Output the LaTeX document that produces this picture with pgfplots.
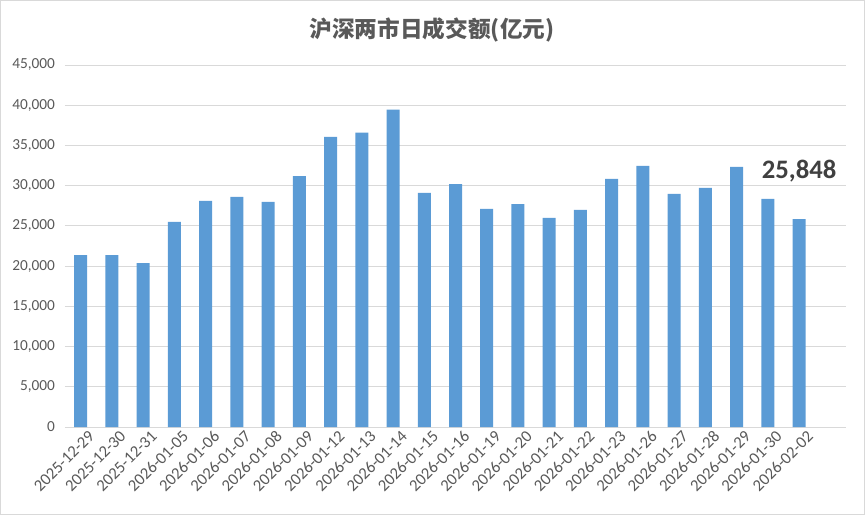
\documentclass[border=0pt]{standalone}
\usepackage{fontspec}
\setmainfont{Carlito}
\newfontfamily\cjk{Noto Sans CJK SC}
\usepackage{pgfplots}
\pgfplotsset{compat=1.18}
\definecolor{barblue}{HTML}{5B9BD5}
\definecolor{gridgray}{HTML}{D9D9D9}
\definecolor{textgray}{HTML}{595959}
\definecolor{labelgray}{HTML}{404040}
\pgfplotstableread{
x y
0 21370
1 21370
2 20370
3 25490
4 28100
5 28600
6 27980
7 31200
8 36080
9 36580
10 39450
11 29100
12 30200
13 27100
14 27700
15 25990
16 26980
17 30850
18 32470
19 28980
20 29730
21 32350
22 28360
23 25848
}\datatable
\begin{document}
\begin{tikzpicture}
\useasboundingbox (0,0) rectangle (648.75pt,386.25pt);
\draw[gridgray, line width=0.75pt] (0.375pt,0.375pt) rectangle (648.375pt,385.875pt);
\node[font=\cjk\bfseries\fontsize{17}{20}\selectfont, text=textgray] at (324pt,363.5pt) {沪深两市日成交额(亿元)};
\begin{axis}[
  at={(48.75pt,66pt)}, anchor=south west,
  scale only axis, width=585.75pt, height=271.5pt,
  ymin=0, ymax=45000, ytick distance=5000,
  xmin=-0.5, xmax=24.5,
  xtick={0,...,23},
  xticklabels={2025-12-29,2025-12-30,2025-12-31,2026-01-05,2026-01-06,2026-01-07,2026-01-08,2026-01-09,2026-01-12,2026-01-13,2026-01-14,2026-01-15,2026-01-16,2026-01-19,2026-01-20,2026-01-21,2026-01-22,2026-01-23,2026-01-26,2026-01-27,2026-01-28,2026-01-29,2026-01-30,2026-02-02},
  xticklabel style={rotate=45, anchor=north east, font=\fontsize{12.5}{14}\selectfont, text=textgray, inner sep=1pt, xshift=3.5pt, yshift=-4pt},
  yticklabel style={font=\fontsize{11.5}{13}\selectfont, text=textgray, xshift=-4pt},
  /pgf/number format/assume math mode=true,
  /pgf/number format/1000 sep={,},
  scaled y ticks=false,
  major tick length=0pt,
  axis x line*=bottom, axis y line*=left,
  x axis line style={gridgray, line width=0.75pt},
  y axis line style={draw=none},
  ymajorgrids, grid style={gridgray, line width=0.75pt},
  clip=false,
]
\addplot[ybar, bar width=9.75pt, bar shift=0pt, fill=barblue, draw=none] table[x=x,y=y] {\datatable};
\node[font=\bfseries\fontsize{20}{24}\selectfont, text=labelgray] at (axis cs:23,31800) {25,848};
\end{axis}
\end{tikzpicture}
\end{document}
